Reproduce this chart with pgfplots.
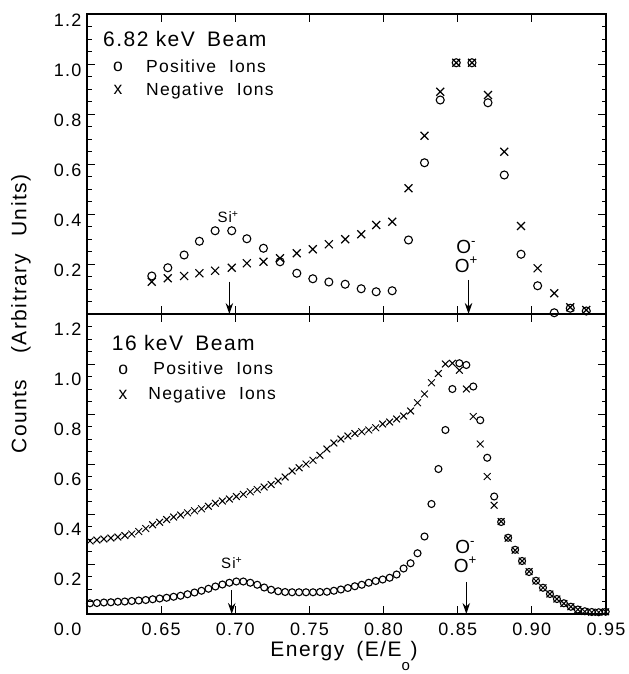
\documentclass[border=0pt]{standalone}
\usepackage{fontspec}
\setmainfont{Liberation Sans}[LetterSpace=7]
\usepackage{pgfplots}
\pgfplotsset{compat=1.18}
\usetikzlibrary{arrows.meta}

\pgfplotstableread{
x y
0.6437 0.152
0.6545 0.185
0.6655 0.236
0.6758 0.291
0.6864 0.333
0.6976 0.333
0.7078 0.301
0.7190 0.263
0.7302 0.209
0.7415 0.163
0.7523 0.141
0.7631 0.128
0.7741 0.119
0.7849 0.101
0.7950 0.089
0.8058 0.093
0.8168 0.296
0.8276 0.605
0.8382 0.856
0.8490 1.005
0.8596 1.005
0.8704 0.845
0.8814 0.556
0.8927 0.239
0.9039 0.113
0.9151 0.005
0.9259 0.023
0.9367 0.012
}\toppos

\pgfplotstableread{
x y
0.6437 0.129
0.6545 0.143
0.6655 0.152
0.6758 0.163
0.6864 0.173
0.6976 0.185
0.7078 0.203
0.7190 0.209
0.7302 0.223
0.7415 0.243
0.7523 0.259
0.7631 0.279
0.7741 0.299
0.7849 0.319
0.7950 0.356
0.8058 0.369
0.8168 0.503
0.8276 0.713
0.8382 0.889
0.8490 1.005
0.8596 1.005
0.8704 0.876
0.8814 0.649
0.8927 0.352
0.9039 0.183
0.9151 0.083
0.9259 0.027
0.9367 0.016
}\topneg

\pgfplotstableread{
x y
0.6020 0.043
0.6067 0.044
0.6114 0.046
0.6161 0.047
0.6208 0.049
0.6255 0.050
0.6302 0.052
0.6349 0.054
0.6396 0.056
0.6443 0.059
0.6490 0.062
0.6537 0.065
0.6584 0.069
0.6631 0.073
0.6678 0.079
0.6725 0.086
0.6772 0.093
0.6819 0.101
0.6866 0.110
0.6913 0.118
0.6960 0.125
0.7007 0.130
0.7054 0.130
0.7101 0.125
0.7148 0.117
0.7195 0.106
0.7242 0.097
0.7289 0.091
0.7336 0.088
0.7383 0.087
0.7430 0.087
0.7477 0.087
0.7524 0.087
0.7571 0.088
0.7618 0.089
0.7665 0.093
0.7712 0.098
0.7759 0.104
0.7806 0.111
0.7853 0.117
0.7900 0.125
0.7947 0.132
0.7994 0.138
0.8041 0.145
0.8088 0.158
0.8135 0.182
0.8182 0.203
0.8229 0.243
0.8276 0.310
0.8323 0.440
0.8370 0.580
0.8417 0.736
0.8464 0.900
0.8511 1.003
0.8558 0.996
0.8605 0.910
0.8652 0.775
0.8699 0.625
0.8746 0.470
0.8793 0.368
0.8840 0.305
0.8887 0.257
0.8934 0.212
0.8981 0.168
0.9028 0.133
0.9075 0.105
0.9122 0.080
0.9169 0.060
0.9216 0.043
0.9263 0.029
0.9310 0.018
0.9357 0.011
0.9404 0.008
0.9451 0.007
0.9498 0.009
}\botpos

\pgfplotstableread{
x y
0.6020 0.292
0.6067 0.296
0.6114 0.300
0.6161 0.304
0.6208 0.308
0.6255 0.314
0.6302 0.320
0.6349 0.330
0.6396 0.342
0.6443 0.357
0.6490 0.367
0.6537 0.378
0.6584 0.388
0.6631 0.396
0.6678 0.405
0.6725 0.413
0.6772 0.421
0.6819 0.431
0.6866 0.443
0.6913 0.452
0.6960 0.460
0.7007 0.470
0.7054 0.479
0.7101 0.489
0.7148 0.498
0.7195 0.508
0.7242 0.518
0.7289 0.532
0.7336 0.548
0.7383 0.572
0.7430 0.585
0.7477 0.600
0.7524 0.615
0.7571 0.635
0.7618 0.660
0.7665 0.684
0.7712 0.700
0.7759 0.712
0.7806 0.722
0.7853 0.729
0.7900 0.736
0.7947 0.745
0.7994 0.760
0.8041 0.768
0.8088 0.780
0.8135 0.792
0.8182 0.812
0.8229 0.845
0.8276 0.880
0.8323 0.925
0.8370 0.962
0.8417 1.000
0.8464 1.003
0.8511 0.975
0.8558 0.900
0.8605 0.790
0.8652 0.680
0.8699 0.550
0.8746 0.435
0.8793 0.370
0.8840 0.303
0.8887 0.255
0.8934 0.212
0.8981 0.170
0.9028 0.132
0.9075 0.105
0.9122 0.080
0.9169 0.060
0.9216 0.042
0.9263 0.029
0.9310 0.018
0.9357 0.010
0.9404 0.007
0.9451 0.007
0.9498 0.009
}\botneg

\tikzset{ann/.style={-{Stealth[length=11bp,width=7.5bp]}, line width=1bp, black}}
\pgfplotsset{
  panel/.style={
    width=519bp, height=300bp, scale only axis,
    xmin=0.6, xmax=0.95, ymin=0, ymax=1.2,
    xtick={0.65,0.70,0.75,0.80,0.85,0.90,0.95},
    minor ytick={0,0.05,...,1.21},
    major tick length=8bp, minor tick length=4.5bp,
    tick style={line width=0.9bp, black},
    axis line style={line width=1.3bp},
    clip=false,
    tick label style={font=\fontsize{18bp}{21bp}\selectfont},
    yticklabel style={xshift=-2bp},
  },
  posmark/.style={only marks, mark=o, mark size=4bp, mark options={line width=1.1bp, black}},
  negmark/.style={only marks, mark=x, mark size=5.6bp, mark options={line width=1.2bp, black}},
}

\begin{document}
\begin{tikzpicture}[txt/.style={inner sep=0pt}]
\begin{axis}[panel, name=top, at={(0,0)}, anchor=south west,
  xticklabels={},
  ytick={0.2,0.4,0.6,0.8,1.0,1.2},
  yticklabels={0.2,0.4,0.6,0.8,1.0,1.2},
  yticklabel style={yshift=-6bp}]
\addplot[posmark] table[x=x,y=y] {\toppos};
\addplot[negmark] table[x=x,y=y] {\topneg};
\node[txt, anchor=base west, font=\fontsize{21bp}{25bp}\selectfont] at (rel axis cs:0.0308,0.8917) {6.82 keV\hspace{5bp} Beam};
\node[txt, anchor=base, font=\fontsize{17.5bp}{20bp}\selectfont] at (rel axis cs:0.0597,0.807) {o};
\node[txt, anchor=base west, font=\fontsize{17.5bp}{20bp}\selectfont] at (rel axis cs:0.1137,0.805) {Positive\hspace{7bp} Ions};
\node[txt, anchor=base, font=\fontsize{17.5bp}{20bp}\selectfont] at (rel axis cs:0.0597,0.73) {x};
\node[txt, anchor=base west, font=\fontsize{17.5bp}{20bp}\selectfont] at (rel axis cs:0.1137,0.728) {Negative\hspace{7bp} Ions};
\node[font=\fontsize{15bp}{18bp}\selectfont] at (axis cs:0.6951,0.388) {Si\textsuperscript{+}};
\draw[ann] (axis cs:0.696,0.129) -- (axis cs:0.696,0.0);
\node[font=\fontsize{19bp}{22bp}\selectfont] at (axis cs:0.8558,0.269) {O\textsuperscript{-}};
\node[font=\fontsize{19bp}{22bp}\selectfont] at (axis cs:0.8558,0.196) {O\textsuperscript{+}};
\draw[ann] (axis cs:0.8573,0.136) -- (axis cs:0.8573,0.0);
\end{axis}

\begin{axis}[panel, name=bot, at={(top.south west)}, anchor=north west,
  xticklabels={0.65,0.70,0.75,0.80,0.85,0.90,0.95},
  xticklabel style={yshift=-5bp},
  ytick={0,0.2,0.4,0.6,0.8,1.0,1.2},
  yticklabels={0.0,0.2,0.4,0.6,0.8,1.0,1.2},
  yticklabel style={yshift=-15bp}]
\addplot[posmark, mark size=3.5bp] table[x=x,y=y] {\botpos};
\addplot[negmark, mark size=4.8bp, mark options={line width=1bp}] table[x=x,y=y] {\botneg};
\node[txt, anchor=base west, font=\fontsize{21bp}{25bp}\selectfont] at (rel axis cs:0.0476,0.88) {16 keV\hspace{5bp} Beam};
\node[txt, anchor=base, font=\fontsize{17.5bp}{20bp}\selectfont] at (rel axis cs:0.070,0.797) {o};
\node[txt, anchor=base west, font=\fontsize{17.5bp}{20bp}\selectfont] at (rel axis cs:0.1277,0.797) {Positive\hspace{7bp} Ions};
\node[txt, anchor=base, font=\fontsize{17.5bp}{20bp}\selectfont] at (rel axis cs:0.0694,0.716) {x};
\node[txt, anchor=base west, font=\fontsize{17.5bp}{20bp}\selectfont] at (rel axis cs:0.118,0.716) {Negative\hspace{7bp} Ions};
\node[font=\fontsize{15bp}{18bp}\selectfont] at (axis cs:0.6976,0.203) {Si\textsuperscript{+}};
\draw[ann] (axis cs:0.6976,0.096) -- (axis cs:0.6976,0.0);
\node[font=\fontsize{19bp}{22bp}\selectfont] at (axis cs:0.8551,0.269) {O\textsuperscript{-}};
\node[font=\fontsize{19bp}{22bp}\selectfont] at (axis cs:0.8551,0.196) {O\textsuperscript{+}};
\draw[ann] (axis cs:0.8558,0.129) -- (axis cs:0.8558,0.0);
\end{axis}

\node[rotate=90, font=\fontsize{21bp}{25bp}\selectfont] at ([xshift=-66bp]top.south west) {Counts\hspace{26bp}(Arbitrary\hspace{10bp} Units)};
\node[anchor=base, font=\fontsize{21bp}{25bp}\selectfont] at ([shift={(257bp,-42bp)}]bot.south west) {Energy\hspace{12bp}(E/E\rlap{\raisebox{-14bp}{\fontsize{15bp}{18bp}\selectfont o}}\hspace{9bp})};
\path ([shift={(-87bp,14bp)}]top.north west) rectangle ([shift={(23bp,-60bp)}]bot.south east);
\end{tikzpicture}
\end{document}
